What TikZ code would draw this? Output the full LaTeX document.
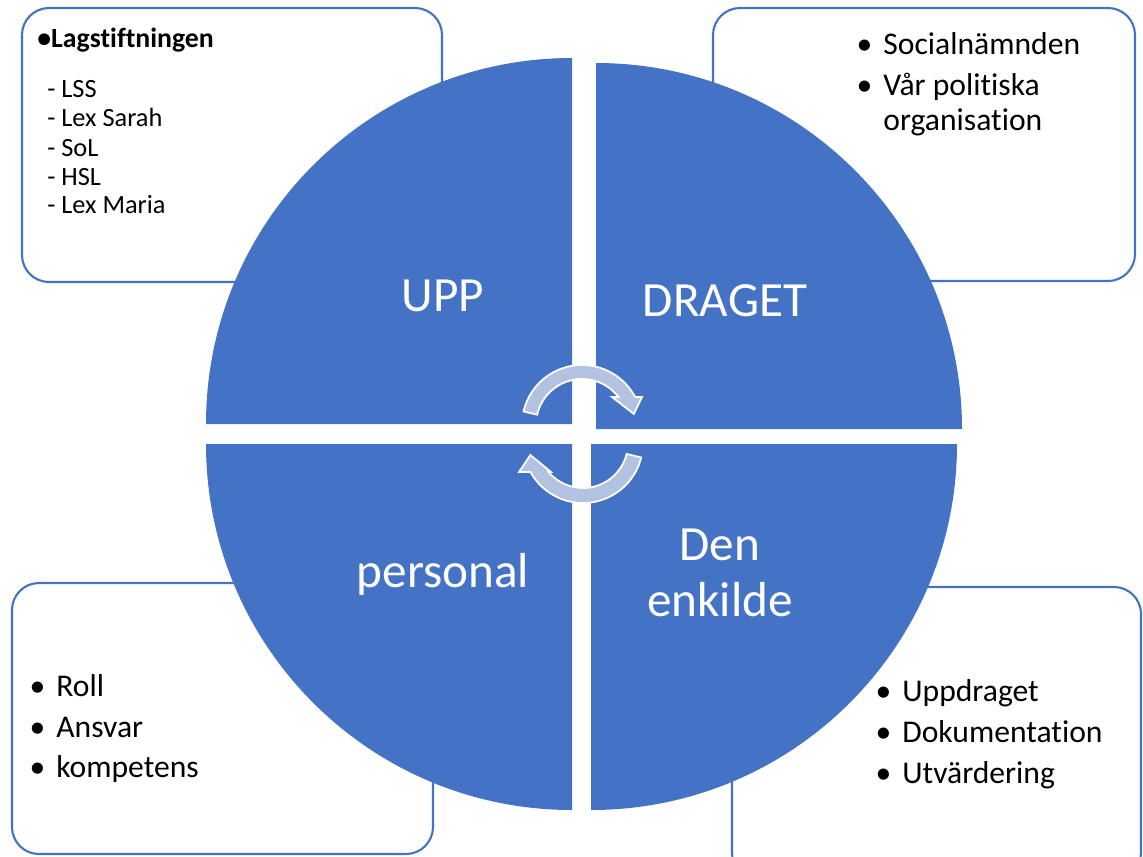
\documentclass[tikz,border=0pt]{standalone}
\usepackage{fontspec}
\setmainfont{Carlito}[Ligatures=NoCommon]

\definecolor{quadblue}{RGB}{68,114,196}
\definecolor{arrowfill}{RGB}{180,194,226}

\tikzset{
  infobox/.style={draw=quadblue, line width=1.2pt, fill=white, rounded corners=0.54cm},
  quadrant/.style={fill=quadblue},
  cyclearrow/.style={fill=arrowfill, draw=white, line width=1pt},
  boxtext/.style={anchor=base west, inner sep=0pt, font=\fontsize{18}{21}\selectfont},
  smalltext/.style={anchor=base west, inner sep=0pt, font=\fontsize{15}{18}\selectfont},
  bigtext/.style={anchor=base, inner sep=0pt, text=white, font=\fontsize{28}{33}\selectfont}
}

\begin{document}
\begin{tikzpicture}[x=0.02cm,y=0.02cm]
\useasboundingbox (0,0) rectangle (1143,-856);
\clip (0,0) rectangle (1143,-856);

% boxes behind the circle
\draw[infobox] (22,-8) rectangle (442,-282);
\draw[infobox] (713,-8) rectangle (1135,-281);
\draw[infobox] (12,-583) rectangle (433,-854);
\draw[infobox] (732,-587) rectangle (1141,-880);

% four quadrants
\fill[quadrant] (572,-424) -- (206,-424) arc[start angle=180,end angle=90,radius=366] -- cycle;
\fill[quadrant] (596,-429) -- (596,-63) arc[start angle=90,end angle=0,radius=366] -- cycle;
\fill[quadrant] (572,-444) -- (572,-810) arc[start angle=270,end angle=180,radius=366] -- cycle;
\fill[quadrant] (591,-444) -- (957,-444) arc[start angle=0,end angle=-90,radius=366] -- cycle;

% cycle arrows
\begin{scope}[shift={(582,-425)}]
  \draw[cyclearrow] (167:46) arc[start angle=167,end angle=37.5,radius=46] -- (30,28) -- (12:53)
    -- (60,28) -- (28:60) arc[start angle=28,end angle=167,radius=60] -- cycle;
\end{scope}
\begin{scope}[shift={(583,-443)}]
  \draw[cyclearrow] (-14:45) arc[start angle=-14,end angle=-139.8,radius=45] -- (-32,-29) -- (192.8:54)
    -- (-64,-29) -- (-151.1:60) arc[start angle=-151.1,end angle=-14,radius=60] -- cycle;
\end{scope}

% quadrant labels
\node[bigtext] (upp) at (443,-311) {UPP};
\node[bigtext] (draget) at (725,-316) {DRAGET};
\node[bigtext] (personal) at (443,-587) {personal};
\node[bigtext] (den) at (720,-560) {Den};
\node[bigtext] (enkilde) at (720,-616) {enkilde};

% top left box
\node[smalltext, font=\fontsize{15.8}{18}\selectfont\bfseries] (lag) at (37,-47) {\textbullet Lagstiftningen};
\node[smalltext] (lss) at (47,-97) {- LSS};
\node[smalltext] (sarah) at (47,-126.5) {- Lex Sarah};
\node[smalltext] (sol) at (47,-156) {- SoL};
\node[smalltext] (hsl) at (47,-185.5) {- HSL};
\node[smalltext] (maria) at (47,-213.5) {- Lex Maria};

% top right box
\node[boxtext] (soc) at (883,-54) {\llap{\textbullet\hspace{0.35em}}Socialnämnden};
\node[boxtext] (var) at (883,-95) {\llap{\textbullet\hspace{0.35em}}Vår politiska};
\node[boxtext] (org) at (883,-130) {organisation};

% bottom left box
\node[boxtext] (roll) at (56,-696) {\llap{\textbullet\hspace{0.35em}}Roll};
\node[boxtext] (ansvar) at (56,-737) {\llap{\textbullet\hspace{0.35em}}Ansvar};
\node[boxtext] (komp) at (56,-777) {\llap{\textbullet\hspace{0.35em}}kompetens};

% bottom right box
\node[boxtext] (uppd) at (902,-701) {\llap{\textbullet\hspace{0.35em}}Uppdraget};
\node[boxtext] (dok) at (902,-742) {\llap{\textbullet\hspace{0.35em}}Dokumentation};
\node[boxtext] (utv) at (902,-783) {\llap{\textbullet\hspace{0.35em}}Utvärdering};
\end{tikzpicture}
\end{document}
